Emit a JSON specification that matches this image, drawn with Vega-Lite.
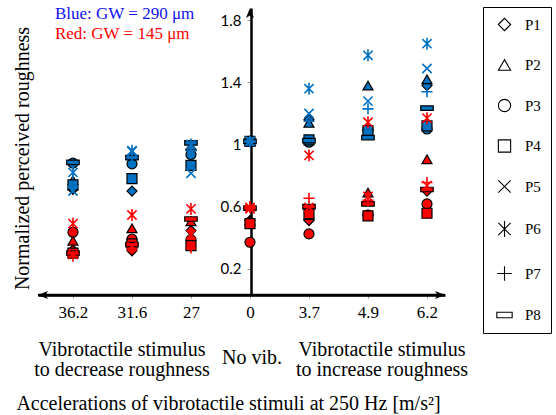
{
  "$schema": "https://vega.github.io/schema/vega-lite/v6.json",
  "width": 407,
  "height": 287,
  "autosize": {"type": "none"},
  "padding": {"left": 38, "top": 8, "right": 111, "bottom": 120},
  "background": "white",
  "config": {
    "view": {"stroke": null},
    "axis": {"grid": false},
    "font": "Liberation Serif",
    "legend": {"labelFont": "Liberation Serif", "labelFontSize": 15, "labelFontWeight": "normal", "labelColor": "black", "symbolFillColor": "transparent", "symbolStrokeColor": "black"}
  },
  "datasets": {
    "pts": [
      {"a": "36.2", "p": "P1", "gw": "290", "v": 0.71}, {"a": "36.2", "p": "P2", "gw": "290", "v": 0.77}, {"a": "36.2", "p": "P3", "gw": "290", "v": 0.88}, {"a": "36.2", "p": "P4", "gw": "290", "v": 0.74}, {"a": "36.2", "p": "P5", "gw": "290", "v": 0.70}, {"a": "36.2", "p": "P6", "gw": "290", "v": 0.82}, {"a": "36.2", "p": "P7", "gw": "290", "v": 0.73}, {"a": "36.2", "p": "P8", "gw": "290", "v": 0.885},
      {"a": "31.6", "p": "P1", "gw": "290", "v": 0.70}, {"a": "31.6", "p": "P2", "gw": "290", "v": 0.935}, {"a": "31.6", "p": "P3", "gw": "290", "v": 0.875}, {"a": "31.6", "p": "P4", "gw": "290", "v": 0.78}, {"a": "31.6", "p": "P5", "gw": "290", "v": 0.955}, {"a": "31.6", "p": "P6", "gw": "290", "v": 0.96}, {"a": "31.6", "p": "P7", "gw": "290", "v": 0.92}, {"a": "31.6", "p": "P8", "gw": "290", "v": 0.915},
      {"a": "27", "p": "P1", "gw": "290", "v": 0.97}, {"a": "27", "p": "P2", "gw": "290", "v": 0.99}, {"a": "27", "p": "P3", "gw": "290", "v": 0.935}, {"a": "27", "p": "P4", "gw": "290", "v": 0.865}, {"a": "27", "p": "P5", "gw": "290", "v": 0.815}, {"a": "27", "p": "P6", "gw": "290", "v": 1.0}, {"a": "27", "p": "P7", "gw": "290", "v": 0.96}, {"a": "27", "p": "P8", "gw": "290", "v": 1.01},
      {"a": "0", "p": "P1", "gw": "290", "v": 1.02}, {"a": "0", "p": "P2", "gw": "290", "v": 1.02}, {"a": "0", "p": "P3", "gw": "290", "v": 1.02}, {"a": "0", "p": "P4", "gw": "290", "v": 1.02}, {"a": "0", "p": "P5", "gw": "290", "v": 1.02}, {"a": "0", "p": "P6", "gw": "290", "v": 1.02}, {"a": "0", "p": "P7", "gw": "290", "v": 1.02}, {"a": "0", "p": "P8", "gw": "290", "v": 1.02},
      {"a": "3.7", "p": "P1", "gw": "290", "v": 1.16}, {"a": "3.7", "p": "P2", "gw": "290", "v": 1.14}, {"a": "3.7", "p": "P3", "gw": "290", "v": 1.015}, {"a": "3.7", "p": "P4", "gw": "290", "v": 1.03}, {"a": "3.7", "p": "P5", "gw": "290", "v": 1.20}, {"a": "3.7", "p": "P6", "gw": "290", "v": 1.36}, {"a": "3.7", "p": "P7", "gw": "290", "v": 1.15}, {"a": "3.7", "p": "P8", "gw": "290", "v": 1.025},
      {"a": "4.9", "p": "P1", "gw": "290", "v": 1.10}, {"a": "4.9", "p": "P2", "gw": "290", "v": 1.38}, {"a": "4.9", "p": "P3", "gw": "290", "v": 1.09}, {"a": "4.9", "p": "P4", "gw": "290", "v": 1.09}, {"a": "4.9", "p": "P5", "gw": "290", "v": 1.28}, {"a": "4.9", "p": "P6", "gw": "290", "v": 1.575}, {"a": "4.9", "p": "P7", "gw": "290", "v": 1.23}, {"a": "4.9", "p": "P8", "gw": "290", "v": 1.045},
      {"a": "6.2", "p": "P1", "gw": "290", "v": 1.38}, {"a": "6.2", "p": "P2", "gw": "290", "v": 1.42}, {"a": "6.2", "p": "P3", "gw": "290", "v": 1.10}, {"a": "6.2", "p": "P4", "gw": "290", "v": 1.12}, {"a": "6.2", "p": "P5", "gw": "290", "v": 1.49}, {"a": "6.2", "p": "P6", "gw": "290", "v": 1.65}, {"a": "6.2", "p": "P7", "gw": "290", "v": 1.34}, {"a": "6.2", "p": "P8", "gw": "290", "v": 1.235},
      {"a": "36.2", "p": "P1", "gw": "145", "v": 0.32}, {"a": "36.2", "p": "P2", "gw": "145", "v": 0.38}, {"a": "36.2", "p": "P3", "gw": "145", "v": 0.435}, {"a": "36.2", "p": "P4", "gw": "145", "v": 0.30}, {"a": "36.2", "p": "P5", "gw": "145", "v": 0.29}, {"a": "36.2", "p": "P6", "gw": "145", "v": 0.49}, {"a": "36.2", "p": "P7", "gw": "145", "v": 0.28}, {"a": "36.2", "p": "P8", "gw": "145", "v": 0.30},
      {"a": "31.6", "p": "P1", "gw": "145", "v": 0.315}, {"a": "31.6", "p": "P2", "gw": "145", "v": 0.46}, {"a": "31.6", "p": "P3", "gw": "145", "v": 0.39}, {"a": "31.6", "p": "P4", "gw": "145", "v": 0.36}, {"a": "31.6", "p": "P5", "gw": "145", "v": 0.34}, {"a": "31.6", "p": "P6", "gw": "145", "v": 0.546}, {"a": "31.6", "p": "P7", "gw": "145", "v": 0.33}, {"a": "31.6", "p": "P8", "gw": "145", "v": 0.355},
      {"a": "27", "p": "P1", "gw": "145", "v": 0.445}, {"a": "27", "p": "P2", "gw": "145", "v": 0.505}, {"a": "27", "p": "P3", "gw": "145", "v": 0.387}, {"a": "27", "p": "P4", "gw": "145", "v": 0.348}, {"a": "27", "p": "P5", "gw": "145", "v": 0.42}, {"a": "27", "p": "P6", "gw": "145", "v": 0.585}, {"a": "27", "p": "P7", "gw": "145", "v": 0.333}, {"a": "27", "p": "P8", "gw": "145", "v": 0.52},
      {"a": "0", "p": "P1", "gw": "145", "v": 0.51}, {"a": "0", "p": "P2", "gw": "145", "v": 0.51}, {"a": "0", "p": "P3", "gw": "145", "v": 0.37}, {"a": "0", "p": "P4", "gw": "145", "v": 0.49}, {"a": "0", "p": "P5", "gw": "145", "v": 0.585}, {"a": "0", "p": "P6", "gw": "145", "v": 0.595}, {"a": "0", "p": "P7", "gw": "145", "v": 0.60}, {"a": "0", "p": "P8", "gw": "145", "v": 0.59},
      {"a": "3.7", "p": "P1", "gw": "145", "v": 0.51}, {"a": "3.7", "p": "P2", "gw": "145", "v": 0.545}, {"a": "3.7", "p": "P3", "gw": "145", "v": 0.424}, {"a": "3.7", "p": "P4", "gw": "145", "v": 0.555}, {"a": "3.7", "p": "P5", "gw": "145", "v": 0.595}, {"a": "3.7", "p": "P6", "gw": "145", "v": 0.93}, {"a": "3.7", "p": "P7", "gw": "145", "v": 0.654}, {"a": "3.7", "p": "P8", "gw": "145", "v": 0.60},
      {"a": "4.9", "p": "P1", "gw": "145", "v": 0.545}, {"a": "4.9", "p": "P2", "gw": "145", "v": 0.69}, {"a": "4.9", "p": "P3", "gw": "145", "v": 0.545}, {"a": "4.9", "p": "P4", "gw": "145", "v": 0.54}, {"a": "4.9", "p": "P5", "gw": "145", "v": 0.665}, {"a": "4.9", "p": "P6", "gw": "145", "v": 1.144}, {"a": "4.9", "p": "P7", "gw": "145", "v": 0.64}, {"a": "4.9", "p": "P8", "gw": "145", "v": 0.617},
      {"a": "6.2", "p": "P1", "gw": "145", "v": 0.70}, {"a": "6.2", "p": "P2", "gw": "145", "v": 0.905}, {"a": "6.2", "p": "P3", "gw": "145", "v": 0.617}, {"a": "6.2", "p": "P4", "gw": "145", "v": 0.557}, {"a": "6.2", "p": "P5", "gw": "145", "v": 0.735}, {"a": "6.2", "p": "P6", "gw": "145", "v": 1.17}, {"a": "6.2", "p": "P7", "gw": "145", "v": 0.755}, {"a": "6.2", "p": "P8", "gw": "145", "v": 0.71}
    ]
  },
  "layer": [
    {
      "data": {"name": "pts"},
      "transform": [{"filter": "false"}],
      "mark": {"type": "point", "filled": false, "strokeWidth": 1.2, "opacity": 1},
      "encoding": {
        "x": {
          "field": "a", "type": "ordinal",
          "scale": {"type": "point", "domain": ["36.2", "31.6", "27", "0", "3.7", "4.9", "6.2"], "padding": 0.449, "align": 0.66},
          "axis": {
            "title": "Accelerations of vibrotactile stimuli at 250 Hz [m/s²]",
            "titleFont": "Liberation Serif", "titleFontSize": 20, "titleFontWeight": "normal", "titleColor": "black",
            "titleX": 190, "titleY": 114, "titleBaseline": "alphabetic", "titleAlign": "center",
            "labelFont": "Liberation Serif", "labelFontSize": 17, "labelColor": "black", "labelAngle": 0, "labelPadding": 6,
            "tickSize": 3, "tickColor": "#8c8c8c", "domain": true, "domainColor": "black", "domainWidth": 2.5
          }
        },
        "y": {
          "field": "v", "type": "quantitative",
          "scale": {"domain": [0.03, 1.88], "nice": false, "zero": false},
          "axis": {
            "orient": "left", "offset": -213,
            "values": [0.2, 0.4, 0.6, 0.8, 1, 1.2, 1.4, 1.6, 1.8],
            "format": "~g",
            "labelExpr": "round(datum.value*10) % 4 == 2 ? datum.label : ''",
            "labelFont": "Lato", "labelFontSize": 15, "labelColor": "black", "labelPadding": 6,
            "tickSize": 4, "tickColor": "#999999", "domainColor": "black", "domainWidth": 2.5,
            "title": "Normalized perceived roughness",
            "titleFont": "Liberation Serif", "titleFontSize": 20, "titleFontWeight": "normal", "titleColor": "black",
            "titleX": -223, "titleY": 150, "titleAngle": -90, "titleAlign": "center", "titleBaseline": "alphabetic"
          }
        },
        "shape": {
          "field": "p", "type": "nominal",
          "scale": {
            "domain": ["P1", "P2", "P3", "P4", "P5", "P6", "P7", "P8"],
            "range": ["diamond", "triangle-up", "circle", "square", "M-1,-1L1,1M1,-1L-1,1", "M-1,-1L1,1M1,-1L-1,1M0,-1.3L0,1.3", "M-1.2,0L1.2,0M0,-1.2L0,1.2", "M-1.25,-0.45L1.25,-0.45L1.25,0.45L-1.25,0.45Z"]
          },
          "legend": {
            "orient": "none", "legendX": 445, "legendY": -1, "title": null,
            "strokeColor": "black", "padding": 10, "rowPadding": 23.5,
            "symbolSize": 150, "symbolOffset": 4, "labelOffset": 13,
            "symbolFillColor": "transparent", "symbolStrokeColor": "black", "symbolStrokeWidth": 1.1,
            "labelFont": "Liberation Serif", "labelFontSize": 15, "labelColor": "black",
            "labelExpr": "datum.label + '\u00a0\u00a0\u00a0\u00a0'",
            "encode": {
              "symbols": {"update": {
                "fill": {"value": "transparent"}, "stroke": {"value": "black"}, "opacity": {"value": 1},
                "strokeWidth": {"signal": "indexof(['P5','P6','P7'], datum.value) >= 0 ? 2.6 : 1.1"}
              }},
              "legend": {"update": {"strokeWidth": {"value": 1.5}}}
            }
          }
        }
      }
    },
    {
      "data": {"name": "pts"},
      "transform": [{"filter": "indexof(['P5','P6','P7'], datum.p) < 0"}],
      "mark": {"type": "point", "filled": true, "stroke": "black", "strokeWidth": 1.2, "size": 100, "opacity": 1},
      "encoding": {
        "x": {"field": "a", "type": "ordinal"},
        "y": {"field": "v", "type": "quantitative"},
        "color": {"field": "gw", "type": "nominal", "scale": {"domain": ["290", "145"], "range": ["#0070C0", "#FF0000"]}, "legend": null},
        "shape": {"field": "p", "type": "nominal"}
      }
    },
    {
      "data": {"name": "pts"},
      "transform": [{"filter": "indexof(['P5','P6','P7'], datum.p) >= 0"}],
      "mark": {"type": "point", "filled": false, "strokeWidth": 1.6, "size": 85, "opacity": 1},
      "encoding": {
        "x": {"field": "a", "type": "ordinal"},
        "y": {"field": "v", "type": "quantitative"},
        "color": {"field": "gw", "type": "nominal", "legend": null},
        "shape": {"field": "p", "type": "nominal"}
      }
    },
    {
      "data": {"values": [{}]},
      "mark": {"type": "rule", "color": "black", "strokeWidth": 2.5},
      "encoding": {"x": {"value": 0}, "x2": {"value": "width"}, "y": {"datum": 0.03, "type": "quantitative"}}
    },
    {
      "data": {"values": [{}]},
      "mark": {"type": "point", "filled": true, "color": "black", "opacity": 1, "size": 100, "shape": "M0,0L-0.8,2L0,1.5L0.8,2Z"},
      "encoding": {"x": {"datum": "0", "type": "ordinal"}, "y": {"datum": 1.88, "type": "quantitative"}}
    },
    {
      "data": {"values": [{}]},
      "mark": {"type": "point", "filled": true, "color": "black", "opacity": 1, "size": 100, "shape": "M0,0L2,-0.8L1.5,0L2,0.8Z"},
      "encoding": {"x": {"value": 0}, "y": {"datum": 0.03, "type": "quantitative"}}
    },
    {
      "data": {"values": [{}]},
      "mark": {"type": "point", "filled": true, "color": "black", "opacity": 1, "size": 100, "shape": "M0,0L-2,-0.8L-1.5,0L-2,0.8Z"},
      "encoding": {"x": {"value": "width"}, "y": {"datum": 0.03, "type": "quantitative"}}
    },
    {
      "data": {"values": [{"t": "Blue: GW = 290 μm"}]},
      "mark": {"type": "text", "align": "left", "baseline": "middle", "font": "Liberation Serif", "fontSize": 17, "color": "#1010F0", "dx": -18},
      "encoding": {"x": {"datum": "36.2", "type": "ordinal"}, "y": {"datum": 1.84, "type": "quantitative"}, "text": {"field": "t"}}
    },
    {
      "data": {"values": [{"t": "Red: GW = 145 μm"}]},
      "mark": {"type": "text", "align": "left", "baseline": "middle", "font": "Liberation Serif", "fontSize": 17, "color": "#FF0000", "dx": -18},
      "encoding": {"x": {"datum": "36.2", "type": "ordinal"}, "y": {"datum": 1.71, "type": "quantitative"}, "text": {"field": "t"}}
    },
    {
      "data": {"values": [{"t": "Vibrotactile stimulus\nto decrease roughness"}]},
      "mark": {"type": "text", "align": "center", "baseline": "top", "font": "Liberation Serif", "fontSize": 20, "color": "black", "lineBreak": "\n", "lineHeight": 20, "dx": -10},
      "encoding": {"x": {"datum": "31.6", "type": "ordinal"}, "y": {"datum": -0.261, "type": "quantitative"}, "text": {"field": "t"}}
    },
    {
      "data": {"values": [{"t": "No vib."}]},
      "mark": {"type": "text", "align": "center", "baseline": "top", "font": "Liberation Serif", "fontSize": 20, "color": "black", "dx": 2},
      "encoding": {"x": {"datum": "0", "type": "ordinal"}, "y": {"datum": -0.313, "type": "quantitative"}, "text": {"field": "t"}}
    },
    {
      "data": {"values": [{"t": "Vibrotactile stimulus\nto increase roughness"}]},
      "mark": {"type": "text", "align": "center", "baseline": "top", "font": "Liberation Serif", "fontSize": 20, "color": "black", "lineBreak": "\n", "lineHeight": 20, "dx": 14},
      "encoding": {"x": {"datum": "4.9", "type": "ordinal"}, "y": {"datum": -0.261, "type": "quantitative"}, "text": {"field": "t"}}
    }
  ]
}
